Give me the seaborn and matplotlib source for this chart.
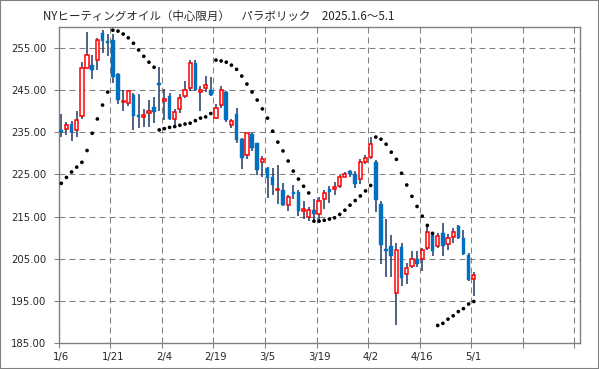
import matplotlib
matplotlib.use("Agg")
import matplotlib.pyplot as plt
import numpy as np
import pandas as pd
import seaborn as sns
from matplotlib.patches import Rectangle

title = "NYヒーティングオイル（中心限月）　パラボリック　2025.1.6～5.1"
tick_labels = ["1/6", "1/21", "2/4", "2/19", "3/5", "3/19", "4/2", "4/16", "5/1", "", ""]
y_ticks = [185, 195, 205, 215, 225, 235, 245, 255]

# daily OHLC, one value per trading day from 1/6 to 5/1
opens = [235.6, 235.8, 237.1, 235.6, 239.0, 250.3, 251.1, 252.2, 258.7, 256.7,
         257.0, 249.0, 242.2, 241.9, 244.0, 239.2, 238.7, 239.6, 241.1, 246.8,
         242.5, 243.65, 238.2, 240.6, 243.65, 245.5, 251.6, 244.7, 245.55, 245.1,
         238.5, 241.5, 244.7, 236.75, 239.4, 233.5, 229.6, 234.7, 232.5, 228.0,
         226.6, 224.3, 221.2, 221.4, 217.8, 220.9, 220.9, 216.2, 214.8, 216.6,
         215.5, 219.2, 221.6, 221.5, 222.15, 224.5, 225.9, 225.2, 224.0, 227.9,
         229.1, 227.9, 218.1, 207.2, 207.9, 196.9, 207.8, 201.3, 203.3, 204.8,
         205.0, 207.5, 210.5, 208.0, 211.0, 208.4, 210.1, 212.8, 210.0, 205.9,
         200.1]
highs = [239.5, 237.5, 237.6, 240.1, 251.7, 259.0, 253.3, 257.5, 259.3, 258.5,
         258.5, 249.2, 245.1, 245.2, 244.3, 244.1, 240.6, 242.6, 243.4, 250.5,
         245.4, 244.3, 240.5, 244.2, 247.2, 252.2, 252.3, 246.0, 248.4, 248.2,
         241.7, 246.0, 244.8, 238.1, 240.9, 233.6, 234.9, 234.9, 232.6, 229.4,
         226.7, 226.5, 227.2, 223.0, 220.2, 222.6, 221.4, 218.6, 217.3, 219.1,
         219.6, 221.4, 222.3, 223.3, 224.9, 225.7, 226.0, 225.9, 228.7, 229.7,
         233.9, 228.5, 218.7, 214.4, 210.5, 208.6, 208.6, 203.9, 206.7, 206.8,
         207.6, 212.7, 210.8, 211.2, 213.4, 210.9, 212.3, 213.1, 211.9, 206.3,
         201.9]
lows = [234.0, 234.4, 232.9, 234.0, 238.3, 250.2, 247.6, 249.9, 253.8, 253.2,
        246.7, 241.8, 240.0, 241.3, 235.6, 236.1, 236.3, 236.3, 237.2, 240.2,
        237.9, 237.9, 236.7, 239.7, 243.25, 244.8, 244.9, 240.1, 244.7, 243.65,
        238.1, 240.9, 237.5, 236.0, 232.4, 226.4, 228.6, 230.6, 224.8, 224.4,
        219.3, 220.2, 218.1, 217.5, 216.2, 219.2, 215.1, 214.3, 213.9, 214.0,
        214.2, 216.9, 218.3, 220.1, 221.8, 224.4, 224.5, 221.8, 222.8, 227.4,
        228.7, 216.1, 203.8, 200.7, 200.7, 189.1, 198.4, 199.0, 202.7, 203.1,
        202.1, 207.1, 205.6, 207.5, 205.5, 207.1, 208.6, 209.7, 205.8, 199.6,
        196.0]
closes = [235.2, 236.75, 235.1, 237.9, 250.3, 253.4, 249.8, 257.0, 256.7, 256.2,
          248.3, 242.6, 242.5, 244.8, 239.0, 238.7, 239.1, 240.2, 239.8, 246.3,
          243.0, 238.3, 239.9, 243.25, 245.1, 251.6, 245.1, 245.0, 246.3, 244.0,
          240.9, 245.0, 237.9, 237.7, 233.3, 229.0, 234.8, 231.35, 226.0, 228.7,
          224.05, 222.4, 221.5, 217.8, 219.6, 220.4, 216.2, 216.8, 216.6, 215.7,
          218.6, 220.7, 220.8, 222.0, 224.4, 225.1, 225.2, 222.8, 228.0, 228.9,
          232.3, 218.9, 208.2, 206.8, 205.6, 207.0, 200.5, 202.8, 204.9, 203.7,
          207.0, 211.3, 206.7, 210.4, 208.0, 209.9, 211.3, 209.9, 206.0, 200.0,
          201.1]
# parabolic SAR dots
sar = [222.9, 224.3, 225.6, 226.75, 227.9, 230.7, 234.8, 238.2, 241.5, 244.6,
       259.3, 259.1, 258.4, 257.5, 256.2, 254.6, 253.1, 251.7, 250.5, 235.6,
       235.9, 236.2, 236.4, 236.7, 237.0, 237.2, 237.8, 238.4, 238.7, 239.5,
       252.2, 252.0, 251.7, 251.0, 250.0, 248.4, 246.5, 244.6, 242.7, 240.6,
       238.4, 235.3, 232.7, 230.6, 228.2, 225.8, 223.9, 222.2, 220.6, 213.9,
       213.9, 214.1, 214.4, 214.7, 215.5, 216.5, 217.7, 218.8, 219.9, 221.1,
       222.4, 233.9, 233.4, 232.2, 230.3, 228.6, 225.3, 222.5, 219.8, 217.4,
       215.1, 212.9, 211.0, 189.1, 189.6, 190.6, 191.4, 192.4, 193.1, 194.2,
       194.8]

df = pd.DataFrame({"open": opens, "high": highs, "low": lows, "close": closes, "sar": sar})
df["x"] = np.arange(len(df))
up = df[df["close"] >= df["open"]]
down = df[df["close"] < df["open"]]

sns.set_style("white")
plt.rcParams["font.family"] = ["DejaVu Sans"]
plt.rcParams["lines.scale_dashes"] = False

fig = plt.figure(figsize=(5.99, 3.69), dpi=100)
ax = fig.add_axes([58.7 / 599, 26.3 / 369, (580 - 58.7) / 599, (342.7 - 27.3) / 369])

ax.vlines(df["x"], df["low"], df["high"], color="#1F3864", lw=1.1, zorder=2)
ax.bar(down["x"], down["close"] - down["open"], bottom=down["open"], width=0.7,
       color="#0070C0", edgecolor="#0070C0", lw=0.3, zorder=3)
ax.bar(up["x"], (up["close"] - up["open"]).clip(lower=0.25), bottom=up["open"], width=0.62,
       facecolor="white", edgecolor="#FF0000", lw=1.1, zorder=3)
sns.scatterplot(data=df, x="x", y="sar", color="black", s=7, edgecolor="none",
                legend=False, zorder=4, ax=ax)

ax.set_xlim(-0.5, 100.6)
ax.set_ylim(185, 260)
ax.set_xticks(np.arange(-0.5, 100, 10))
ax.set_xticklabels([])
ax.set_xticks(np.arange(0, 101, 10), minor=True)
ax.set_xticklabels(tick_labels, minor=True)
ax.set_yticks(y_ticks)
ax.set_yticklabels([f"{v:.2f}" for v in y_ticks])
ax.set_xlabel("")
ax.set_ylabel("")
ax.set_axisbelow(True)
ax.grid(True, which="major", color="#808080", lw=0.75, linestyle=(0, (4.3, 2.9)))
ax.tick_params(which="major", bottom=True, left=True, length=3.4, width=0.75,
               color="#808080", labelsize=7.3, pad=5.5)
ax.tick_params(which="minor", bottom=True, length=0, labelsize=7.3, pad=6.5)
for s in ax.spines.values():
    s.set_color("#808080")
    s.set_linewidth(1.0)

fig.text(43 / 599, 1 - 16 / 369, title, fontsize=8.3,
         family=["Noto Sans CJK JP", "DejaVu Sans"], va="center", ha="left")
fig.patches.append(Rectangle((0, 0), 1, 1, transform=fig.transFigure, fill=False,
                             edgecolor="#808080", lw=1.5))

fig.savefig("out.png", dpi=100)
